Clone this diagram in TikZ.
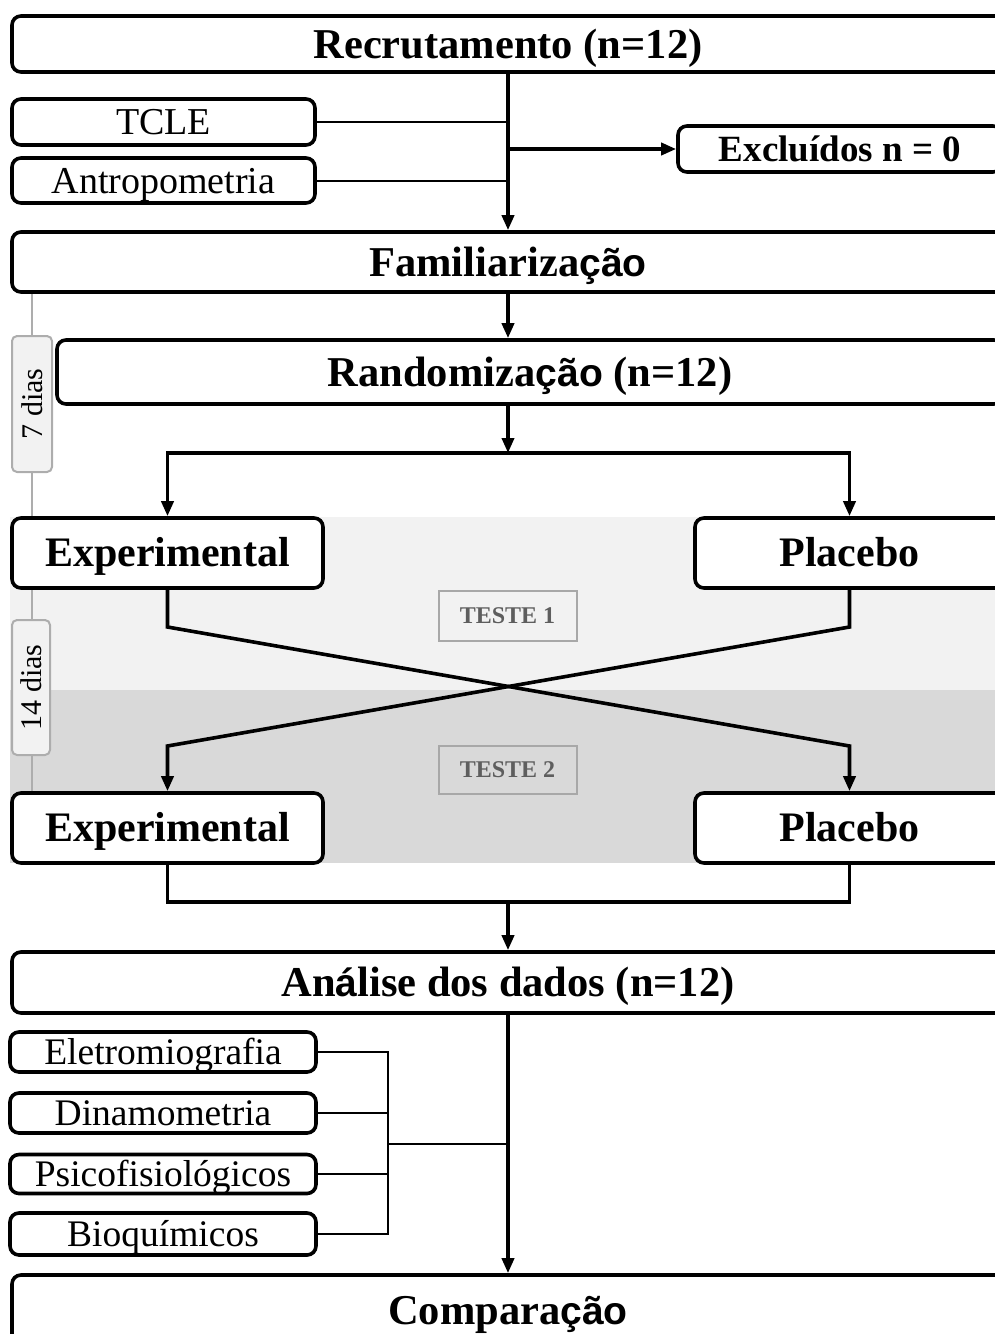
\documentclass[tikz,border=0pt]{standalone}
\usepackage{fontspec}
\setmainfont{Liberation Serif}
\newfontfamily\sansb{Liberation Sans}[Scale=0.92]
\usetikzlibrary{arrows.meta}
\pgfdeclarelayer{background}
\pgfsetlayers{background,main}
\definecolor{bandA}{HTML}{F2F2F2}
\definecolor{bandB}{HTML}{D9D9D9}
\definecolor{tlgray}{HTML}{ADADAD}
\definecolor{testetext}{HTML}{5E5E5E}
\definecolor{testeline}{HTML}{A8A8A8}
\newcommand{\sfb}[1]{{\sansb\bfseries #1}}
\tikzset{
  box/.style={draw=black, line width=3.6pt, rounded corners=9pt, fill=white, inner sep=0pt, align=center, text depth=0pt},
  titlebox/.style={box, font=\fontsize{42.5}{48}\selectfont\bfseries, text height=28.1pt},
  armbox/.style={box, font=\fontsize{42}{47}\selectfont\bfseries, text height=27.7pt, minimum height=70pt},
  smallbox/.style={box, font=\fontsize{38}{42}\selectfont, text height=25pt},
  exclbox/.style={box, font=\fontsize{37}{41}\selectfont\bfseries, text height=24.4pt},
  listbox/.style={box, font=\fontsize{37.5}{41}\selectfont, text height=24.8pt, minimum width=306pt},
  dias/.style={draw=tlgray, fill=bandA, line width=2pt, rounded corners=5pt, rotate=90, inner sep=0pt, text height=20.4pt, text depth=0pt, font=\fontsize{30}{33}\selectfont},
  testebox/.style={draw=testeline, line width=2pt, inner sep=0pt, text height=15.8pt, text depth=0pt, text=testetext, font=\fontsize{24}{27}\selectfont\bfseries, minimum width=138pt},
  mainline/.style={line width=3.6pt, line join=miter},
  arr/.style={mainline, -{Triangle[length=15pt,width=12pt]}},
  arrboth/.style={mainline, {Triangle[length=15pt,width=12pt]}-{Triangle[length=15pt,width=12pt]}},
  thinline/.style={line width=2pt},
  timeline/.style={draw=tlgray, line width=2pt}
}
\begin{document}
\begin{tikzpicture}[x=1pt,y=-1pt]
\useasboundingbox (0,0) rectangle (995,1334);
\clip (0,0) rectangle (995,1334);

% nodes
\node[titlebox, minimum width=992pt, minimum height=56pt] (rec) at (508,44) {Recrutamento (n=12)};
\node[smallbox, minimum width=303pt, minimum height=46pt] (tcle) at (163.5,122) {TCLE};
\node[smallbox, minimum width=303pt, minimum height=45pt] (antro) at (163.5,180.5) {Antropometria};
\node[exclbox, minimum width=324pt, minimum height=46pt] (excl) at (840,149) {Excluídos n = 0};
\node[titlebox, minimum width=992pt, minimum height=60pt] (fam) at (508,262) {Familiariza\sfb{ção}};
\node[titlebox, minimum width=946pt, minimum height=64pt] (rand) at (530,372) {Randomiza\sfb{ção} (n=12)};
\node[armbox, minimum width=311pt] (exp1) at (167.5,553) {Experimental};
\node[armbox, minimum width=309pt] (plac1) at (849.5,553) {Placebo};
\node[armbox, minimum width=311pt] (exp2) at (167.5,828) {Experimental};
\node[armbox, minimum width=309pt] (plac2) at (849.5,828) {Placebo};
\node[testebox, minimum height=50pt] (t1) at (507.5,616) {TESTE 1};
\node[testebox, minimum height=48pt] (t2) at (507.5,769.5) {TESTE 2};
\node[dias, minimum width=136pt, minimum height=40pt] (d7) at (32,404) {7 dias};
\node[dias, minimum width=135pt, minimum height=38pt] (d14) at (31,687.5) {14 dias};
\node[titlebox, minimum width=992pt, minimum height=61pt] (ana) at (508,982.5) {An\sfb{á}lise dos dados (n=12)};
\node[listbox, minimum height=40pt] (elet) at (163,1052) {Eletromiografia};
\node[listbox, minimum height=40pt] (dina) at (163,1113) {Dinamometria};
\node[listbox, minimum height=39pt] (psico) at (163,1174) {Psicofisiológicos};
\node[listbox, minimum height=42pt] (bio) at (163,1234) {Bioquímicos};
\node[titlebox, minimum width=992pt, minimum height=70pt] (comp) at (508,1310) {Compara\sfb{ção}};

% background bands and timeline
\begin{pgfonlayer}{background}
  \fill[bandA] (10,517) rectangle (995,690);
  \fill[bandB] (10,690) rectangle (995,863);
  \draw[timeline] (fam.south -| d7.center) -- (exp2.north -| d7.center);
\end{pgfonlayer}

% connectors top
\draw[arr] (rec.south) -- (fam.north);
\draw[thinline] (tcle.east) -- (tcle.east -| rec.south);
\draw[thinline] (antro.east) -- (antro.east -| rec.south);
\draw[arr] (excl.west -| rec.south) -- (excl.west);
\draw[arr] (fam.south) -- (fam.south |- rand.north);

% randomisation split
\coordinate (split) at (508,453);
\draw[arr] (rand.south -| split) -- (split);
\draw[arrboth] (exp1.north) -- (exp1.north |- split) -- (plac1.north |- split) -- (plac1.north);

% crossover
\draw[arr] (exp1.south) -- (exp1.south |- 0,627) -- (plac2.north |- 0,746) -- (plac2.north);
\draw[arr] (plac1.south) -- (plac1.south |- 0,627) -- (exp2.north |- 0,746) -- (exp2.north);

% join
\coordinate (join) at (508,902);
\draw[mainline] (exp2.south) -- (exp2.south |- join) -- (plac2.south |- join) -- (plac2.south);
\draw[arr] (join) -- (ana.north);
\draw[arr] (ana.south) -- (comp.north);

% bracket
\coordinate (br) at (388,1144);
\draw[thinline] (elet.east) -- (elet.east -| br) -- (bio.east -| br) -- (bio.east);
\draw[thinline] (dina.east) -- (dina.east -| br);
\draw[thinline] (psico.east) -- (psico.east -| br);
\draw[thinline] (br) -- (br -| ana.south);
\end{tikzpicture}
\end{document}
